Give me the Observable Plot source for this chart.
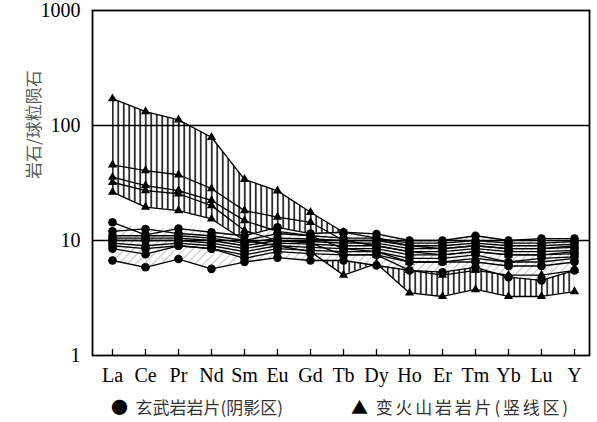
<!DOCTYPE html>
<html>
<head>
<meta charset="utf-8">
<script src="https://cdn.jsdelivr.net/npm/d3@7"></script>
<script src="https://cdn.jsdelivr.net/npm/@observablehq/plot@0.6"></script>
<style>
  html, body { margin: 0; padding: 0; background: #fff; }
  #wrap { position: relative; width: 597px; height: 422px; }
  #legend { position: absolute; left: 0; top: 392px; width: 597px; height: 30px;
    font-family: "Noto Sans CJK SC", sans-serif; font-size: 17px; color: #333; }
  .item { position: absolute; top: 3px; white-space: nowrap; line-height: 24px; }
  .sym { color: #000; display: inline-block; }
</style>
</head>
<body>
<svg width="0" height="0" style="position:absolute">
  <defs>
    <pattern id="vhatch" patternUnits="userSpaceOnUse" width="5.5" height="10">
      <line x1="2.75" y1="0" x2="2.75" y2="10" stroke="#000" stroke-width="1.5"/>
    </pattern>
    <pattern id="dhatch" patternUnits="userSpaceOnUse" width="6" height="6" patternTransform="rotate(45)">
      <rect width="6" height="6" fill="#fff"/>
      <line x1="0" y1="0" x2="0" y2="6" stroke="#c4c4c4" stroke-width="2.2"/>
    </pattern>
  </defs>
</svg>
<div id="wrap">
  <div id="chart"></div>
  <div id="legend">
    <div class="item" style="left:111px"><span class="sym">●</span>&nbsp;&nbsp;玄武岩岩片(阴影区)</div>
    <div class="item" style="left:351px"><span class="sym">▲</span>&nbsp;&nbsp;<span style="letter-spacing:2.8px">变火山岩岩片(竖线区)</span></div>
  </div>
</div>
<script>
const elements = ["La","Ce","Pr","Nd","Sm","Eu","Gd","Tb","Dy","Ho","Er","Tm","Yb","Lu","Y"];
const yTicks = [1, 10, 100, 1000];
const yTitle = "岩石/球粒陨石";

// 变火山岩岩片 (triangles)
const v1 = [171, 132, 112, 79, 34, 27, 17.6, 11.8, 10.5, 9, 8.5, 9, 8.5, 8.5, 9];
const v2 = [45.5, 40.6, 37.3, 28.2, 18.2, 16, 14.4, 10, 9, 8, 7.5, 8, 7.5, 7.5, 8];
const v3 = [35.5, 30, 27.2, 22.3, 14.9, 12, 11, 8.5, 8, 6.5, 6.5, 7, 6.5, 6.5, 7];
const v4 = [32.1, 27.2, 25.5, 20.1, 12.2, 10, 9.5, 7.5, 7.5, 5.5, 5, 5.5, 5, 5, 5.5];
const v5 = [26.3, 19.5, 18.2, 15.4, 10, 9, 8, 5.0, 6.3, 3.5, 3.26, 3.75, 3.26, 3.26, 3.6];

// 玄武岩岩片 (circles)
const b1 = [14.4, 11.2, 12.7, 11.8, 11, 13, 11.5, 11.8, 11.4, 10, 10, 11, 10, 10.4, 10.4];
const b2 = [12, 12.6, 11.5, 11, 10, 11.5, 11, 10.5, 10.5, 9.5, 9.5, 10, 9.5, 9.5, 9.8];
const b3 = [11, 11, 11, 10.5, 9.5, 10.5, 10.3, 10, 10, 9, 9, 9.5, 9, 9, 9.3];
const b4 = [10.5, 10.5, 10.5, 10, 9, 10, 9.8, 9.5, 9.5, 8.5, 8.5, 9, 8.5, 8.5, 8.7];
const b5 = [10, 10, 10, 9.5, 8.5, 9.5, 9.3, 9, 9, 8, 8, 8.5, 8, 8, 8.2];
const b6 = [9.5, 9, 9.5, 9, 8, 9, 8.7, 8.5, 8.5, 7.5, 7.5, 8, 7.5, 7.5, 7.7];
const b7 = [9, 8.5, 9, 8.5, 7.5, 8.5, 8.2, 8, 8, 7, 7, 7.5, 6.5, 7, 7.2];
const b8 = [8.5, 7.6, 9, 8.5, 7, 8, 7.7, 7.5, 7.5, 6.5, 6.5, 6.5, 6, 6, 6.5];
const b9 = [6.7, 5.85, 6.9, 5.67, 6.5, 7.1, 6.7, 6.7, 6.06, 5.5, 5.3, 5.85, 4.8, 4.5, 5.5];

const volcanic = [v1, v2, v3, v4, v5];
const basalt = [b1, b2, b3, b4, b5, b6, b7, b8, b9];

function toRows(group, name) {
  return group.flatMap((s, k) => s.map((v, i) => ({el: elements[i], value: v, series: name + k})));
}
function envelope(group) {
  return elements.map((el, i) => ({el, lo: d3.min(group, s => s[i]), hi: d3.max(group, s => s[i])}));
}
const vRows = toRows(volcanic, "v");
const bRows = toRows(basalt, "b");

const serif = "'Liberation Serif', 'Times New Roman', serif";

const chart = Plot.plot({
  width: 597,
  height: 392,
  marginLeft: 92,
  marginRight: 8,
  marginTop: 10,
  marginBottom: 37,
  style: {fontFamily: serif, fontSize: "20px", color: "#000", background: "#fff"},
  x: {type: "point", domain: elements, padding: 0, insetLeft: 18, insetRight: 12.3},
  y: {type: "log", domain: [1, 1000]},
  marks: [
    Plot.areaY(envelope(volcanic), {x: "el", y1: "lo", y2: "hi", fill: "url(#vhatch)"}),
    Plot.areaY(envelope(basalt), {x: "el", y1: "lo", y2: "hi", fill: "url(#dhatch)"}),
    Plot.ruleY([10, 100], {stroke: "#000", strokeWidth: 1.6}),
    Plot.line(vRows, {x: "el", y: "value", z: "series", stroke: "#000", strokeWidth: 1.3}),
    Plot.line(bRows, {x: "el", y: "value", z: "series", stroke: "#000", strokeWidth: 1.3}),
    Plot.dot(bRows, {x: "el", y: "value", symbol: "circle", fill: "#000", r: 4.3}),
    Plot.dot(vRows, {x: "el", y: "value", symbol: "triangle", fill: "#000", r: 3.4}),
    Plot.frame({stroke: "#000", strokeWidth: 1.8}),
    Plot.axisX({tickSize: 6, dy: -6, tickFormat: () => "", strokeWidth: 1.3, label: null}),
    Plot.axisX({tickSize: 0, tickPadding: 12, fontSize: 20, label: null}),
    Plot.axisY({ticks: yTicks, tickSize: 0, tickPadding: 12, fontSize: 20, tickFormat: d => String(d), label: null}),
    Plot.text([yTitle], {frameAnchor: "left", rotate: -90, dx: -58, dy: -4, fill: "#5a5a5a",
      fontFamily: "'Noto Sans CJK SC', sans-serif", fontSize: 17})
  ]
});
document.getElementById("chart").appendChild(chart);
</script>
</body>
</html>
